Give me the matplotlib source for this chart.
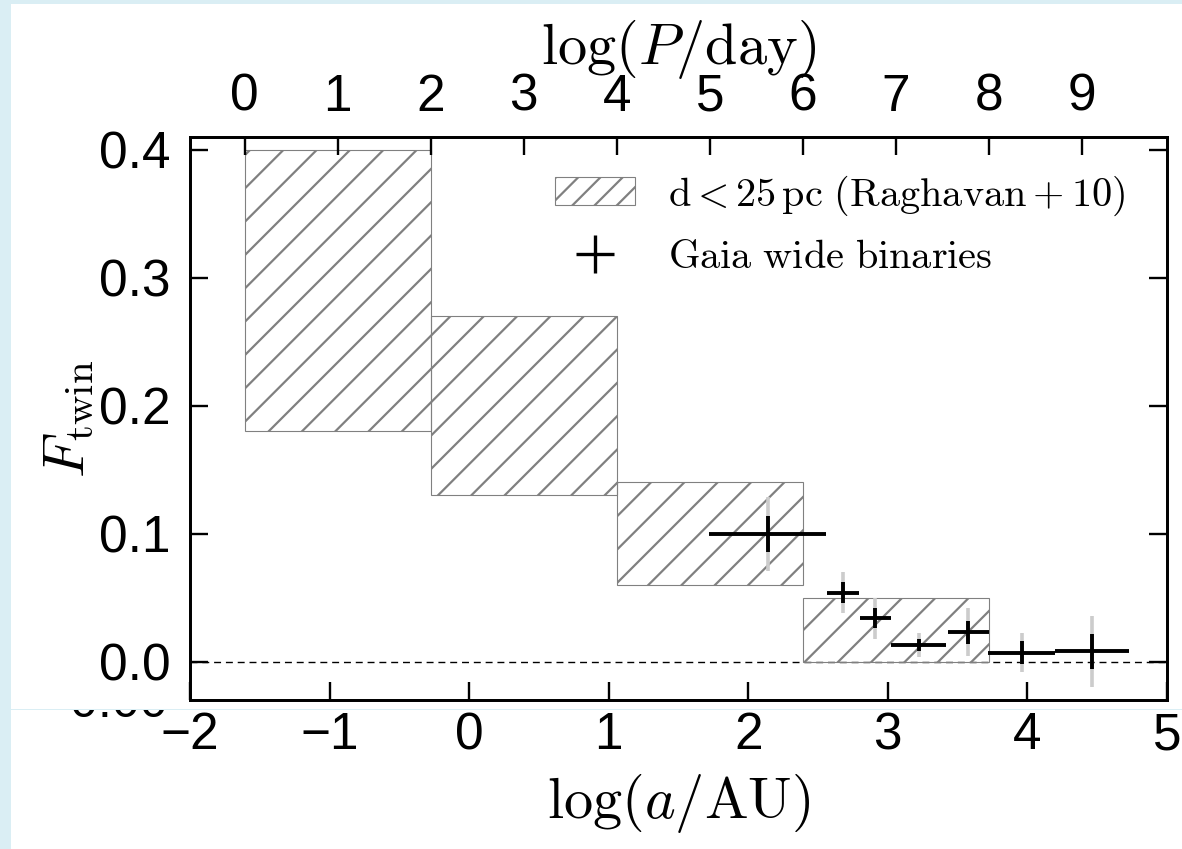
import numpy as np
import matplotlib
matplotlib.use('Agg')
import matplotlib.pyplot as plt
from matplotlib.patches import Rectangle
from matplotlib.lines import Line2D
from matplotlib.transforms import Bbox, TransformedBbox

plt.rcParams['font.family'] = ['Liberation Sans', 'DejaVu Sans']
plt.rcParams['mathtext.fontset'] = 'cm'
plt.rcParams['hatch.linewidth'] = 0.8
plt.rcParams['axes.linewidth'] = 1.0

# Raghavan+10 (d < 25 pc) twin fraction per period bin
logP_edges = [0, 2, 4, 6, 8]
raghavan_lo = [0.18, 0.13, 0.06, 0.00]
raghavan_hi = [0.40, 0.27, 0.14, 0.05]

# Gaia wide binaries
gaia_loga = [2.14, 2.68, 2.91, 3.22, 3.575, 3.96, 4.465]
gaia_dloga = [0.42, 0.115, 0.11, 0.195, 0.147, 0.24, 0.265]
gaia_f = [0.100, 0.054, 0.034, 0.013, 0.023, 0.007, 0.008]
gaia_err = [0.014, 0.008, 0.008, 0.005, 0.009, 0.009, 0.0135]
gaia_err_tot = [0.029, 0.016, 0.016, 0.0096, 0.019, 0.015, 0.028]

top_ticks = list(range(10))

M_TOT = 2.0  # total mass (Msun) for Kepler conversion


def logp_to_loga(lp):
    return (np.asarray(lp) - np.log10(365.25) + 0.5 * np.log10(M_TOT)) / 1.5


W, H = 1182, 849
fig = plt.figure(figsize=(W / 200, H / 200), dpi=200)
fig.patch.set_facecolor('white')

# page frame bits around the figure
blue = '#daeef4'
fig.patches.append(Rectangle((0, 0), 11 / W, 1, transform=fig.transFigure,
                             facecolor=blue, edgecolor='none', zorder=-5))
fig.patches.append(Rectangle((0, 1 - 4 / H), 1, 4 / H, transform=fig.transFigure,
                             facecolor=blue, edgecolor='none', zorder=-5))
fig.patches.append(Rectangle((11 / W, (H - 710) / H), 1, 1.5 / H, transform=fig.transFigure,
                             facecolor=blue, edgecolor='none', zorder=5))
ghost = fig.text(168 / W, (H - 717) / H, '0.00', ha='right', va='baseline', fontsize=18)
ghost.set_clip_box(TransformedBbox(Bbox([[0, 0], [1, (H - 710) / H]]), fig.transFigure))
ghost.set_clip_on(True)

ax = fig.add_axes([190 / W, (H - 700) / H, 977 / W, 563 / H])

edges = logp_to_loga(logP_edges)
for i in range(len(raghavan_lo)):
    ax.add_patch(Rectangle((edges[i], raghavan_lo[i]), edges[i + 1] - edges[i],
                           raghavan_hi[i] - raghavan_lo[i], facecolor='none',
                           edgecolor='gray', hatch='//', lw=0.4, zorder=2))

ax.axhline(0, color='k', lw=0.5, ls=(0, (5, 3.5)), zorder=1)

ax.errorbar(gaia_loga, gaia_f, yerr=gaia_err_tot, fmt='none', ecolor='#cccccc',
            elinewidth=1.3, capsize=0, zorder=3)
ax.errorbar(gaia_loga, gaia_f, xerr=gaia_dloga, yerr=gaia_err, fmt='none', ecolor='k',
            elinewidth=1.4, capsize=0, zorder=4)

ax.set_xlim(-2, 5)
ax.set_ylim(-0.03, 0.41)
ax.set_xticks(range(-2, 6))
ax.set_yticks([0.0, 0.1, 0.2, 0.3, 0.4])
ax.set_yticklabels(['0.0', '0.1', '0.2', '0.3', '0.4'])
ax.tick_params(direction='in', length=6.5, width=0.85, labelsize=18.5,
               right=True, top=False)
ax.tick_params(axis='x', pad=4)
ax.tick_params(axis='y', pad=7)
ax.set_xlabel(r'$\log(a/{\rm AU})$', fontsize=21, labelpad=4)
ax.set_ylabel(r'$F_{\rm twin}$', fontsize=21, labelpad=1)

ax_top = ax.twiny()
ax_top.set_xlim(ax.get_xlim())
ax_top.set_xticks(logp_to_loga(top_ticks))
ax_top.set_xticklabels([str(t) for t in top_ticks])
ax_top.tick_params(direction='in', length=6.5, width=0.85, labelsize=18.5, pad=5.5)
ax_top.set_xlabel(r'$\log(P/{\rm day})$', fontsize=21, labelpad=3)

h1 = Rectangle((0, 0), 1, 1, facecolor='none', edgecolor='gray', hatch='///', lw=0.4)
h2 = Line2D([], [], ls='none', marker='+', ms=14, mew=1.2, color='k')
ax.legend([h1, h2], [r'$\rm d<25\,pc\ (Raghavan+10)$', r'$\rm Gaia\ wide\ binaries$'],
          loc='upper right', frameon=False, fontsize=14.5,
          bbox_to_anchor=(0.994, 1.0))

fig.savefig('out.png', dpi=200, facecolor='white')
